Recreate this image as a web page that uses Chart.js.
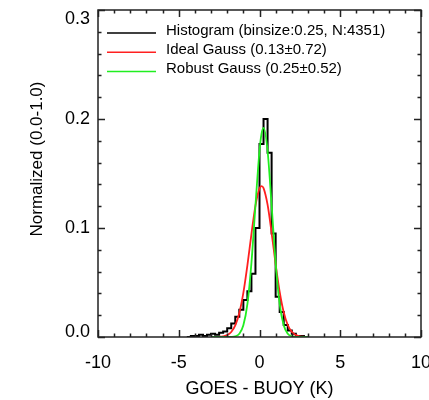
<!DOCTYPE html>
<html>
<head>
<meta charset="utf-8">
<script src="https://cdn.jsdelivr.net/npm/chart.js@4.4.0/dist/chart.umd.min.js"></script>
<style>
  html, body { margin: 0; padding: 0; background: #fff; }
  #wrap { width: 429px; height: 400px; }
</style>
</head>
<body>
<div id="wrap"><canvas id="hist"></canvas></div>
<script>
// histogram: left edge of each 0.25 K bin and its normalized count
var binStart = [-4.5, -4.25, -4.0, -3.75, -3.5, -3.25, -3.0, -2.75, -2.5, -2.25,
                -2.0, -1.75, -1.5, -1.25, -1.0, -0.75, -0.5, -0.25, 0.0, 0.25,
                0.5, 0.75, 1.0, 1.25, 1.5, 1.75, 2.0, 2.25, 2.5, 2.75];
var binFrac = [0, 0.001, 0.001, 0.002, 0.001, 0.002, 0.003, 0.002, 0.004, 0.005,
               0.008, 0.0125, 0.0185, 0.025, 0.034, 0.042, 0.058, 0.100, 0.177, 0.200,
               0.169, 0.095, 0.037, 0.023, 0.011, 0.006, 0.003, 0.001, 0.001, 0];

// fitted curves
var gaussX = [-3.0, -2.75, -2.5, -2.25, -2.0, -1.75, -1.5, -1.25, -1.0, -0.75, -0.5, -0.25,
              0.0, 0.125, 0.25, 0.5, 0.75, 1.0, 1.25, 1.5, 1.75, 2.0, 2.25, 2.5, 2.75, 3.0];
var idealY = [0.00001, 0.00005, 0.00018, 0.00059, 0.00174, 0.00458, 0.01068, 0.02207, 0.04041, 0.06562, 0.09445, 0.1205,
              0.1363, 0.1385, 0.1366, 0.1214, 0.0956, 0.0667, 0.0413, 0.0227, 0.0110, 0.00475, 0.00181, 0.00061, 0.00018, 0.00005];
var robustY = [0, 0, 0, 0, 0.00002, 0.00012, 0.00067, 0.0030, 0.0107, 0.0302, 0.0678, 0.1208,
               0.1709, 0.1863, 0.1918, 0.1709, 0.1208, 0.0678, 0.0302, 0.0107, 0.0030, 0.00067, 0.00012, 0.00002, 0, 0];

var seriesNames = ['Histogram (binsize:0.25, N:4351)', 'Ideal Gauss (0.13\u00b10.72)', 'Robust Gauss (0.25\u00b10.52)'];
var seriesColors = ['#000000', '#ff2020', '#20ee20'];
var xTicks = [-10, -5, 0, 5, 10];
var yTicks = [0.0, 0.1, 0.2, 0.3];

var FONT = "'Liberation Sans', Arial, Helvetica, sans-serif";

function pts(xs, ys) {
    return xs.map(function(x, i) { return {x: x, y: ys[i]}; });
}

// frame with inward ticks on all four sides, legend and y title
var framePlugin = {
    id: 'frame',
    afterDraw: function(chart) {
        var ctx = chart.ctx, a = chart.chartArea;
        var xs = chart.scales.x, ys = chart.scales.y;
        ctx.save();
        ctx.strokeStyle = '#222';
        ctx.lineWidth = 1.5;
        ctx.strokeRect(a.left, a.top, a.right - a.left, a.bottom - a.top);
        ctx.beginPath();
        for (var v = -10; v <= 10; v++) {
            var px = Math.round(xs.getPixelForValue(v)) + 0.5;
            var len = (v % 5 === 0) ? 7 : 3.5;
            ctx.moveTo(px, a.bottom); ctx.lineTo(px, a.bottom - len);
            ctx.moveTo(px, a.top); ctx.lineTo(px, a.top + len);
        }
        for (var k = 0; k <= 15; k++) {
            var py = Math.round(ys.getPixelForValue(k * 0.02)) + 0.5;
            var l2 = (k % 5 === 0) ? 7 : 3.5;
            ctx.moveTo(a.left, py); ctx.lineTo(a.left + l2, py);
            ctx.moveTo(a.right, py); ctx.lineTo(a.right - l2, py);
        }
        ctx.stroke();

        ctx.font = '15px ' + FONT;
        ctx.textBaseline = 'middle';
        ctx.fillStyle = '#000';
        chart.data.datasets.forEach(function(ds, i) {
            var y = 33 + i * 19.3;
            ctx.strokeStyle = ds.borderColor;
            ctx.lineWidth = 1.5;
            ctx.beginPath();
            ctx.moveTo(107, y); ctx.lineTo(156, y);
            ctx.stroke();
            ctx.fillText(ds.label, 166, y - 2.5);
        });

        ctx.translate(37, 159);
        ctx.rotate(-Math.PI / 2);
        ctx.textAlign = 'center';
        ctx.font = '17px ' + FONT;
        ctx.fillText('Normalized (0.0-1.0)', 0, 0);
        ctx.restore();
    }
};

new Chart(document.getElementById('hist').getContext('2d'), {
    type: 'line',
    data: {
        datasets: [{
            label: seriesNames[0],
            data: pts(binStart, binFrac),
            borderColor: seriesColors[0],
            borderWidth: 2,
            stepped: 'before',
            pointRadius: 0,
            order: 3
        }, {
            label: seriesNames[1],
            data: pts(gaussX, idealY),
            borderColor: seriesColors[1],
            borderWidth: 1.8,
            cubicInterpolationMode: 'monotone',
            pointRadius: 0,
            order: 2
        }, {
            label: seriesNames[2],
            data: pts(gaussX, robustY),
            borderColor: seriesColors[2],
            borderWidth: 1.8,
            cubicInterpolationMode: 'monotone',
            pointRadius: 0,
            order: 1
        }]
    },
    options: {
        responsive: true,
        maintainAspectRatio: false,
        animation: false,
        devicePixelRatio: 1,
        layout: { padding: { top: 10, right: 8, left: 0, bottom: 0 } },
        plugins: { legend: { display: false }, tooltip: { enabled: false }, title: { display: false } },
        scales: {
            x: {
                type: 'linear', min: -10, max: 10,
                grid: { display: false, drawTicks: false },
                border: { display: false },
                afterBuildTicks: function(s) { s.ticks = xTicks.map(function(v) { return {value: v}; }); },
                ticks: { autoSkip: false, maxRotation: 0, padding: 15, color: '#000', font: { size: 18, family: FONT } },
                title: { display: true, text: 'GOES - BUOY (K)', color: '#000', font: { size: 18, family: FONT }, padding: 0 },
                afterFit: function(s) { s.height = 63; s.paddingLeft = 0; s.paddingRight = 0; }
            },
            y: {
                type: 'linear', min: 0, max: 0.3,
                grid: { display: false, drawTicks: false },
                border: { display: false },
                afterBuildTicks: function(s) { s.ticks = yTicks.map(function(v) { return {value: v}; }); },
                ticks: {
                    padding: 8, color: '#000',
                    // end labels sit slightly inside the frame, as in the original
                    font: function(c) {
                        var v = c.tick ? c.tick.value : 0.1;
                        var lh = v >= 0.29 ? 19 : (v <= 0.01 ? 10 : 21);
                        return { size: 18, family: FONT, lineHeight: lh + 'px' };
                    },
                    callback: function(v) {
                        var s = Number(v).toFixed(1);
                        if (v >= 0.29) return ['', s];
                        if (v <= 0.01) return [s, ''];
                        return s;
                    }
                },
                afterFit: function(s) { s.width = 98; s.paddingTop = 0; s.paddingBottom = 0; }
            }
        }
    },
    plugins: [framePlugin]
});
</script>
</body>
</html>
